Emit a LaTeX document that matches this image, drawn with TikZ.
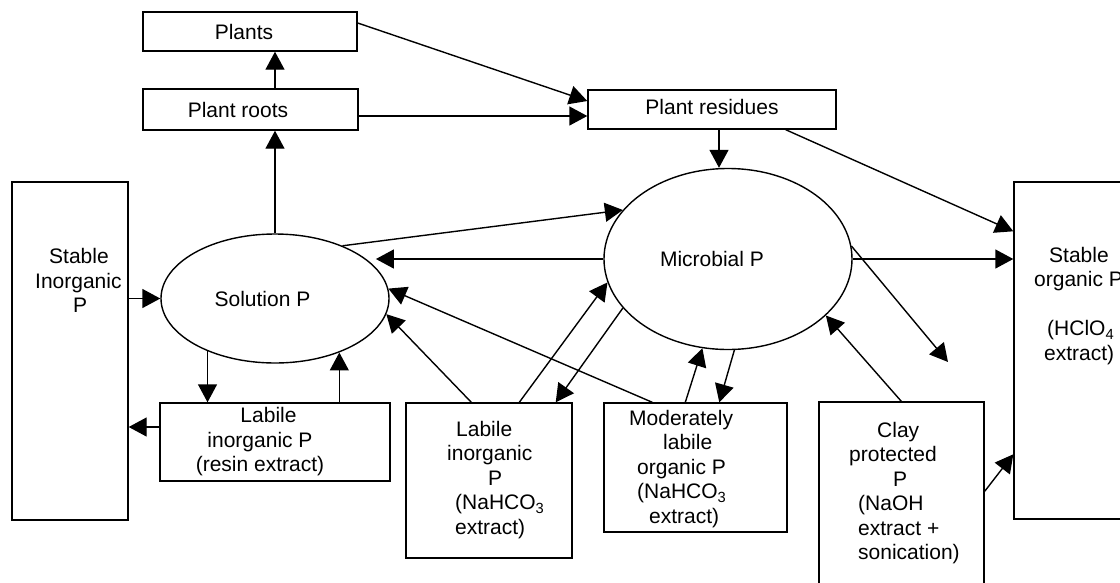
\documentclass[tikz,border=0pt]{standalone}
\usepackage{fontspec}
\setmainfont{Liberation Sans}
\usetikzlibrary{arrows.meta,shapes.geometric,calc}
\tikzset{
  box/.style={draw, line width=1.4pt, inner sep=0pt, rectangle},
  oval/.style={draw, line width=1.4pt, inner sep=0pt, ellipse},
  txt/.style={inner sep=0pt, align=left, anchor=west},
  arr/.style={line width=1.4pt, -{Triangle[length=18pt,width=19pt]}},
  ln/.style={line width=1.4pt}
}
\begin{document}
\begin{tikzpicture}[x=1pt,y=-1pt,font=\fontsize{21}{24.5}\selectfont]
\useasboundingbox (0,0) rectangle (1120,582);
% boxes
\node[box, minimum width=214pt, minimum height=39pt] (plants) at (250,31.5) {Plants\hspace*{12pt}};
\node[box, minimum width=215pt, minimum height=41pt] (roots) at (250.5,109.5) {Plant roots\hspace*{25pt}};
\node[box, minimum width=248pt, minimum height=39pt] (residues) at (712,109.5) {\raisebox{6pt}{Plant residues}};
\node[box, minimum width=116pt, minimum height=338pt] (stableinorg) at (70,351) {};
\node[txt] (stableinorgtxt) at (35,280.5) {\hspace*{14pt}Stable\\Inorganic\\\hspace*{38pt}P};
\node[oval, minimum width=228pt, minimum height=129pt] (solution) at (275,298.5) {Solution P\hspace*{25pt}};
\node[oval, minimum width=248pt, minimum height=181pt] (micro) at (728,259) {Microbial P\hspace*{32pt}};
\node[box, minimum width=230pt, minimum height=78pt] (resin) at (275,442) {};
\node[inner sep=0pt, align=center] (resintxt) at (260,442) {\hspace*{17pt}Labile\\inorganic P\\(resin extract)};
\node[box, minimum width=166pt, minimum height=155pt] (nahco) at (489,480.5) {};
\node[txt] (nahcotxt) at (447,480) {\hspace*{9pt}Labile\\inorganic\\\hspace*{41pt}P\\\hspace*{8pt}(NaHCO\textsubscript{3}\\\hspace*{8pt}extract)};
\node[box, minimum width=183pt, minimum height=129pt] (moder) at (695.5,467.5) {};
\node[txt] (modertxt) at (629,469) {Moderately\\\hspace*{34pt}labile\\\hspace*{8pt}organic P\\\hspace*{8pt}(NaHCO\textsubscript{3}\\\hspace*{20pt}extract)};
\node[box, minimum width=165pt, minimum height=198pt] (clay) at (901.5,501) {};
\node[txt] (claytxt) at (849,493) {\hspace*{28pt}Clay\\protected\\\hspace*{44pt}P\\\hspace*{9pt}(NaOH\\\hspace*{9pt}extract +\\\hspace*{9pt}sonication)};
\node[box, minimum width=130pt, minimum height=337pt] (stableorg) at (1079,350.5) {};
\node[txt] (stableorgtxt) at (1034,306) {\hspace*{15pt}Stable\\organic P\\\mbox{}\\\hspace*{13pt}(HClO\textsubscript{4}\\\hspace*{10pt}extract)};
\coordinate (freeend) at (948,362);
\coordinate (rs) at ($(residues.south)+(7,0)$);
\coordinate (rw) at ($(resin.west)+(0,-15)$);
% connectors
\draw[arr] ($(roots.north)+(24.5,0)$) -- ($(plants.south)+(25,0)$);
\draw[arr] (solution.north) -- (solution.north |- roots.south);
\draw[arr] ($(plants.east)+(0,-8.5)$) -- ($(residues.west)+(0,-8.5)$);
\draw[arr] ($(roots.east)+(0,6.5)$) -- ($(residues.west)+(0,6.5)$);
\draw[arr] (rs) -- (rs |- micro.north);
\draw[arr] ($(residues.south east)+(-51,0)$) -- ($(stableorg.north west)+(0,50)$);
\draw[arr] (stableinorg.east |- solution.west) -- (solution.west);
\draw[arr] (solution.218.6) -- (solution.218.6 |- resin.north);
\draw[arr] (solution.320.2 |- resin.north) -- (solution.320.2);
\draw[arr] (rw) -- (rw -| stableinorg.east);
\draw[arr] (solution.38.9) -- (micro.155.1);
\draw[arr] (micro.west) -- ($(micro.west -| solution.23.7)+(9,0)$);
\draw[arr] ($(moder.north west)+(49,0)$) -- (solution.5.1);
\draw[arr] ($(nahco.north west)+(66,0)$) -- (solution.352.9);
\draw[arr] ($(nahco.north west)+(114,0)$) -- (micro.191.75);
\draw[arr] (micro.205.3) -- ($(nahco.north east)+(-17,0)$);
\draw[arr] ($(moder.north west)+(82,0)$) -- (micro.254.6);
\draw[arr] (micro.274.4) -- ($(moder.north west)+(116,0)$);
\draw[arr] ($(clay.north west)+(83,0)$) -- (micro.330.4);
\draw[arr] (micro.east) -- (micro.east -| stableorg.west);
\draw[arr] (micro.6.5) -- (freeend);
\draw[arr] ($(clay.north east)+(0,90)$) -- ($(stableorg.north west)+(0,273)$);
\end{tikzpicture}
\end{document}
